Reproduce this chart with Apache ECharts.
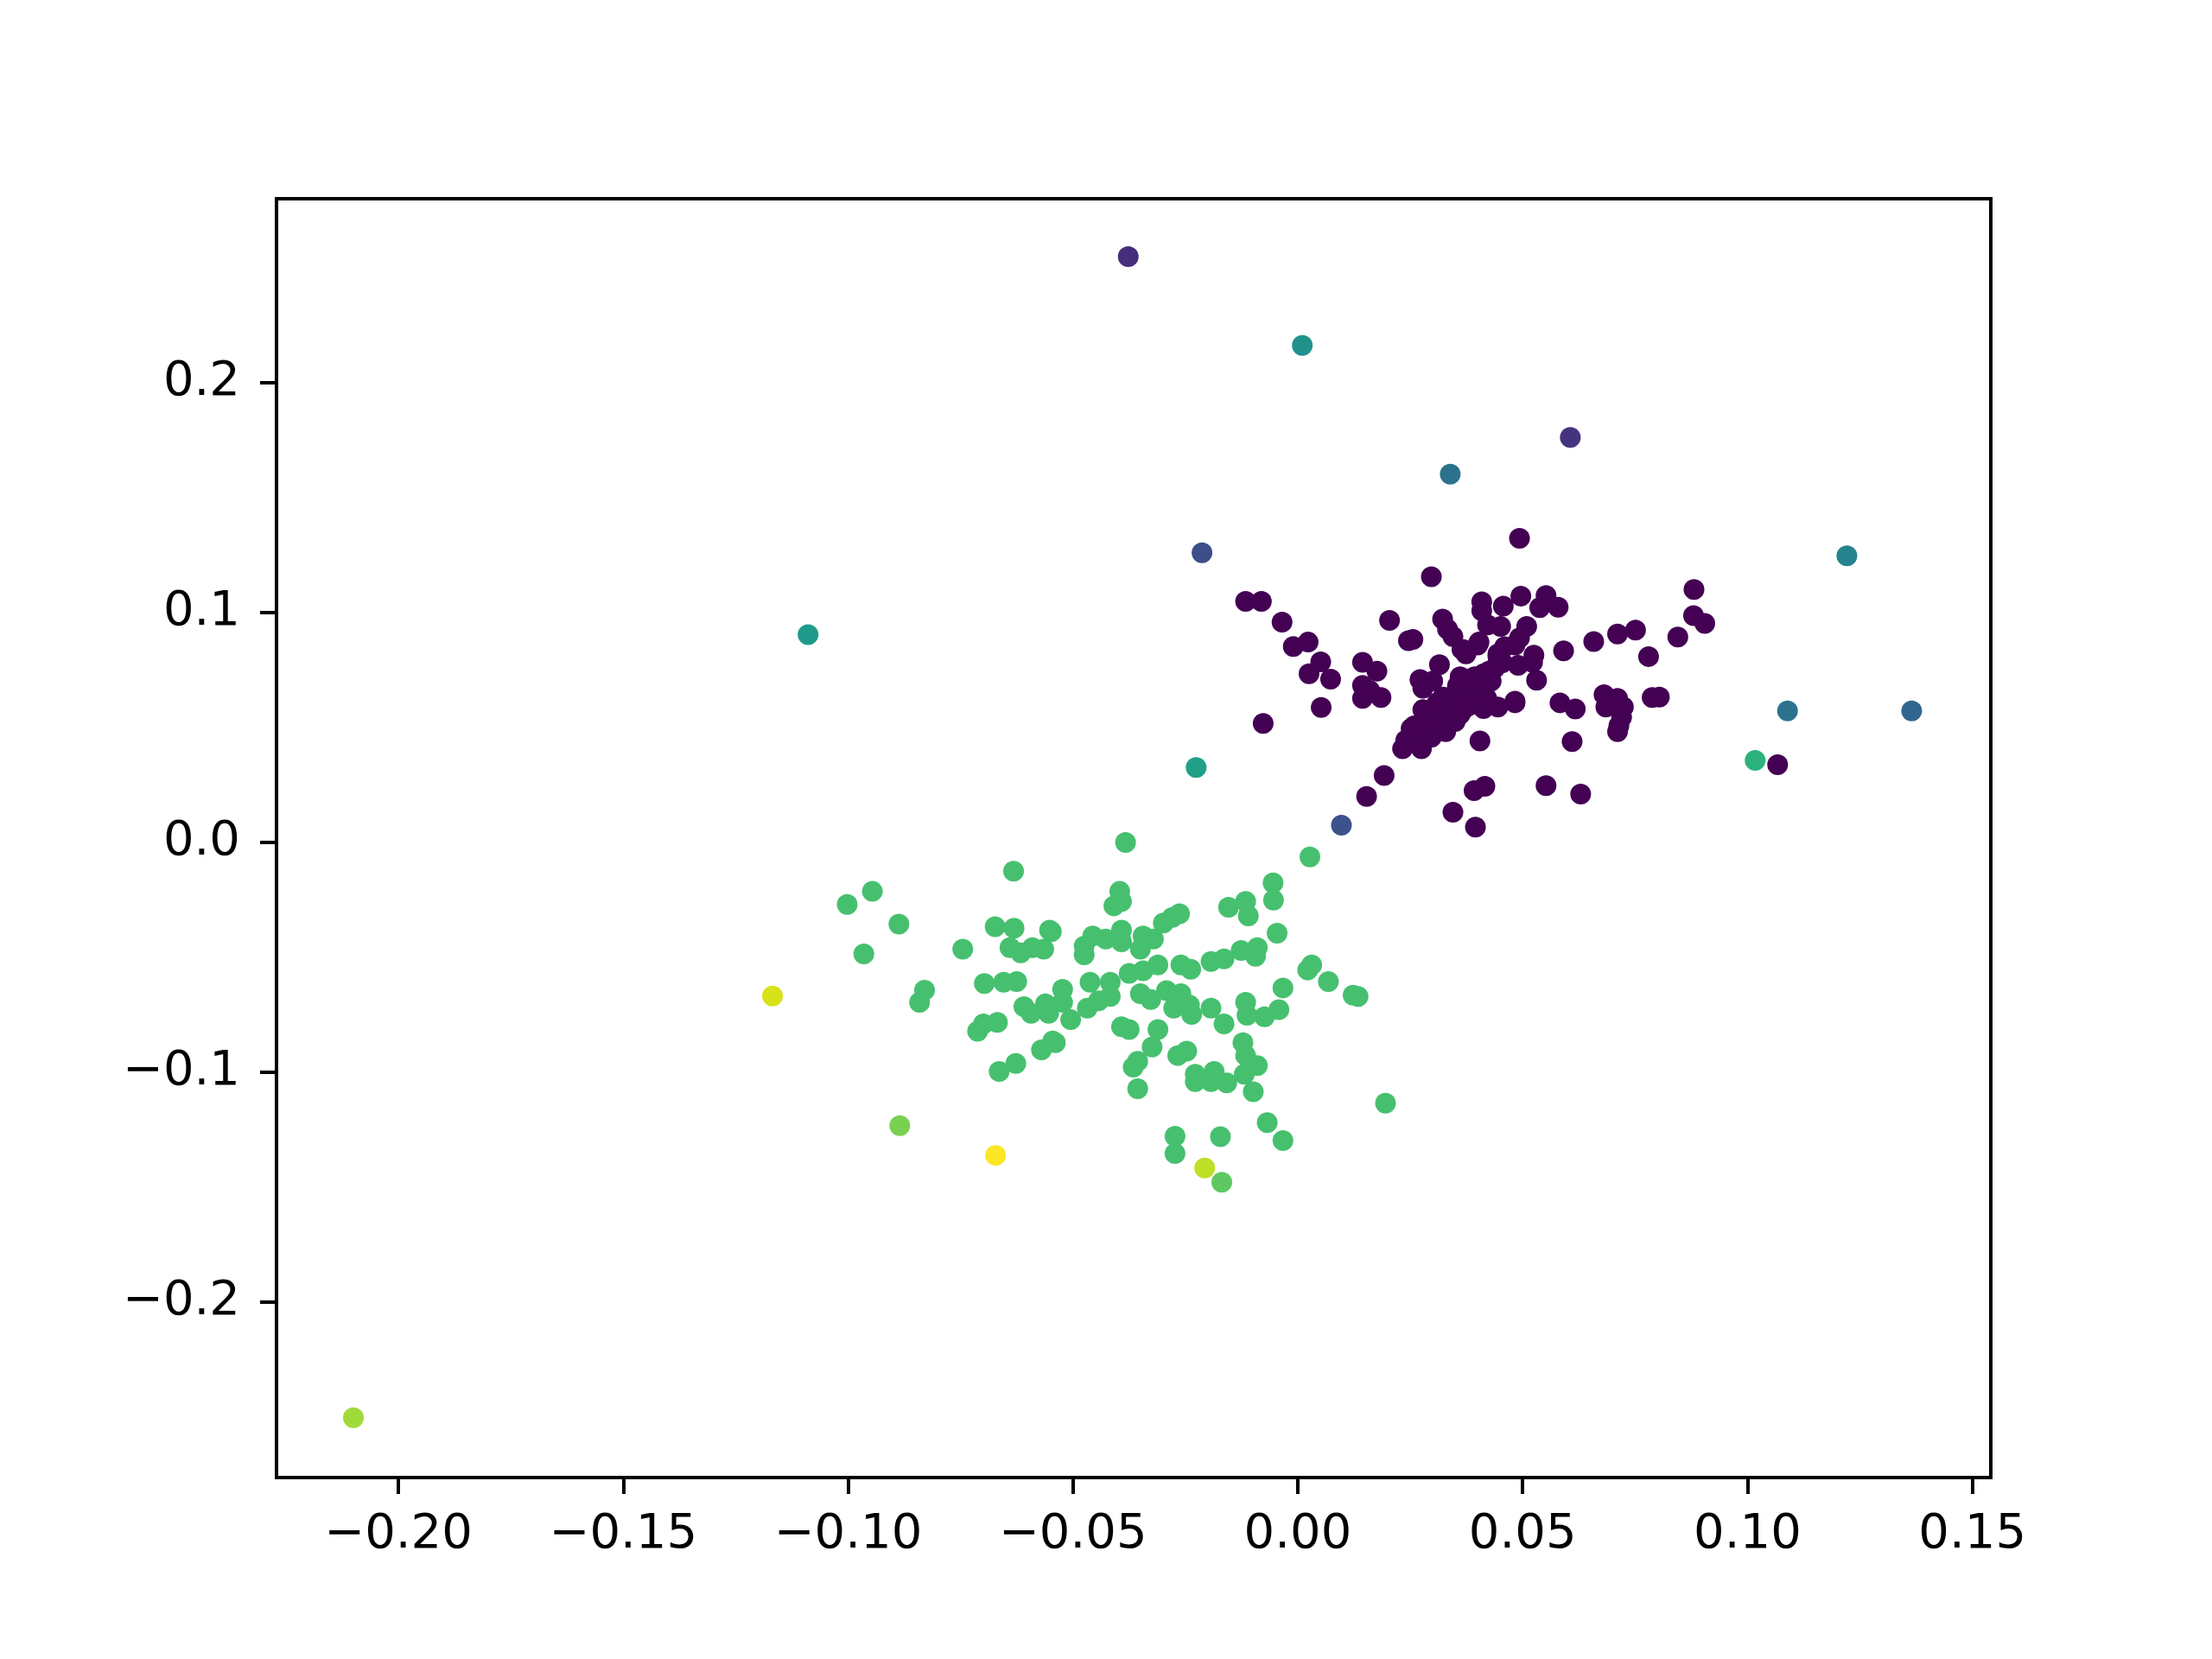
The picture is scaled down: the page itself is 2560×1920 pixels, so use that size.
<!DOCTYPE html>
<html>
<head>
<meta charset="utf-8">
<script src="https://cdn.jsdelivr.net/npm/echarts@6/dist/echarts.min.js"></script>
<style>
html,body{margin:0;padding:0;background:#fff;}
#chart{width:2560px;height:1920px;}
</style>
</head>
<body>
<div id="chart"></div>
<script>
// Tick values
const xTicks = [-0.20, -0.15, -0.10, -0.05, 0.00, 0.05, 0.10, 0.15];
const yTicks = [-0.2, -0.1, 0.0, 0.1, 0.2];

// Cluster 0 (dark purple)
const clusterPurple = [
 [0.0297,0.1154],[-0.0116,0.1047],[-0.0081,0.1047],[-0.0035,0.0957],[0.0204,0.0964],[-0.0010,0.0851],[0.0023,0.0870],
 [0.0051,0.0784],[0.0025,0.0732],[0.0073,0.0709],[0.0052,0.0586],[-0.0077,0.0516],[0.0144,0.0782],[0.0176,0.0744],
 [0.0144,0.0682],[0.0144,0.0625],[0.0185,0.0629],[0.0160,0.0659],[0.0246,0.0876],[0.0256,0.0882],[0.0322,0.0970],
 [0.0333,0.0926],[0.0345,0.0894],[0.0365,0.0838],[0.0315,0.0772],[0.0272,0.0706],[0.0281,0.0682],[0.0300,0.0700],
 [0.0361,0.0719],[0.0192,0.0290],[0.0153,0.0199],[0.0345,0.0130],
 [0.0493,0.1321],[0.0881,0.1099],[0.0880,0.0985],[0.0905,0.0951],[0.0845,0.0892],[0.0751,0.0922],[0.0711,0.0905],
 [0.0658,0.0872],[0.0591,0.0832],[0.0780,0.0807],[0.0804,0.0631],[0.0788,0.0629],[0.0681,0.0641],[0.0711,0.0625],
 [0.0724,0.0588],[0.0685,0.0588],[0.0720,0.0544],[0.0714,0.0506],[0.0711,0.0481],[0.0583,0.0606],[0.0617,0.0579],
 [0.0610,0.0437],[0.0405,0.0440],[0.0531,0.0704],[0.0552,0.0246],[0.0629,0.0209],[0.0392,0.0224],[0.0416,0.0243],
 [0.0395,0.0065],[0.0409,0.1045],[0.0409,0.1007],[0.0496,0.1070],[0.0457,0.1026],[0.0552,0.1072],[0.0538,0.1020],
 [0.0579,0.1022],[0.0422,0.0945],[0.0451,0.0938],[0.0509,0.0938],[0.0493,0.0888],[0.0403,0.0870],[0.0445,0.0819],
 [0.0525,0.0813],[0.0490,0.0769],[0.0374,0.0819],[0.0381,0.0706],[0.0413,0.0732],[0.0438,0.0757],[0.0483,0.0606],
 [0.0445,0.0588],[0.0413,0.0581],[0.0381,0.0594],[0.0361,0.0644],[0.0522,0.0782],[0.0361,0.0556],[0.0400,0.0657],
 [0.1067,0.0337],
 [0.0272,0.0707],[0.0278,0.0669],[0.0361,0.0713],[0.0368,0.0838],[0.0400,0.0857],[0.0445,0.0807],[0.0425,0.0744],
 [0.0393,0.0719],[0.0413,0.0682],[0.0483,0.0857],[0.0483,0.0613],[0.0349,0.0644],[0.0323,0.0631],[0.0310,0.0607],
 [0.0278,0.0576],[0.0259,0.0506],[0.0252,0.0494],[0.0297,0.0531],[0.0329,0.0481],[0.0240,0.0443],[0.0233,0.0406],
 [0.0275,0.0406],[0.0297,0.0456],[0.0329,0.0519],
 [0.0265,0.0470],[0.0285,0.0500],[0.0310,0.0540],[0.0335,0.0570],[0.0350,0.0600],[0.0375,0.0620],[0.0390,0.0640],
 [0.0300,0.0580],[0.0320,0.0505],[0.0350,0.0525],[0.0370,0.0580],[0.0395,0.0610],[0.0420,0.0625],[0.0390,0.0680],
 [0.0355,0.0680],[0.0430,0.0700],[0.0455,0.0780],[0.0460,0.0850]
];

// Cluster 1 (green)
const clusterGreen = [
 [-0.0632,-0.0126],[-0.0946,-0.0214],[-0.1002,-0.0271],[-0.0887,-0.0356],[-0.0965,-0.0486],[-0.0745,-0.0465],
 [-0.0673,-0.0368],[-0.0631,-0.0374],[-0.0552,-0.0383],[-0.0640,-0.0459],[-0.0616,-0.0481],[-0.0590,-0.0459],
 [-0.0565,-0.0465],[-0.0830,-0.0644],[-0.0841,-0.0696],[-0.0697,-0.0615],[-0.0654,-0.0609],[-0.0625,-0.0606],
 [-0.0609,-0.0715],[-0.0593,-0.0744],[-0.0561,-0.0703],[-0.0554,-0.0744],[-0.0668,-0.0784],[-0.0699,-0.0790],
 [-0.0712,-0.0822],[-0.0570,-0.0903],[-0.0545,-0.0865],[-0.0627,-0.0962],[-0.0664,-0.0997],
 [-0.0383,-0.0001],[-0.0055,-0.0177],[-0.0054,-0.0252],[-0.0046,-0.0396],[-0.0396,-0.0214],[-0.0392,-0.0258],
 [-0.0409,-0.0277],[-0.0154,-0.0283],[-0.0116,-0.0258],[-0.0110,-0.0321],[-0.0263,-0.0311],[-0.0279,-0.0327],
 [-0.0299,-0.0352],[-0.0548,-0.0389],[-0.0456,-0.0408],[-0.0475,-0.0452],[-0.0427,-0.0421],[-0.0392,-0.0383],
 [-0.0392,-0.0433],[-0.0475,-0.0490],[-0.0344,-0.0408],[-0.0350,-0.0465],[-0.0321,-0.0421],[-0.0311,-0.0534],
 [-0.0344,-0.0559],[-0.0375,-0.0571],[-0.0260,-0.0534],[-0.0238,-0.0553],[-0.0193,-0.0519],[-0.0164,-0.0508],
 [-0.0126,-0.0471],[-0.0090,-0.0459],[-0.0094,-0.0496],[-0.0462,-0.0609],[-0.0417,-0.0609],[-0.0417,-0.0671],
 [-0.0523,-0.0640],[-0.0523,-0.0696],[-0.0555,-0.0740],[-0.0505,-0.0772],[-0.0468,-0.0722],[-0.0443,-0.0690],
 [-0.0350,-0.0659],[-0.0327,-0.0684],[-0.0292,-0.0646],[-0.0276,-0.0722],[-0.0260,-0.0659],[-0.0241,-0.0709],
 [-0.0236,-0.0749],[-0.0193,-0.0722],[-0.0164,-0.0790],[-0.0116,-0.0696],[-0.0113,-0.0753],[-0.0074,-0.0759],
 [-0.0042,-0.0728],[-0.0033,-0.0634],[-0.0392,-0.0803],[-0.0375,-0.0815],[-0.0311,-0.0815],[-0.0324,-0.0891],
 [-0.0539,-0.0872],[-0.0356,-0.0953],[-0.0366,-0.0978],[-0.0356,-0.1072],[-0.0267,-0.0928],[-0.0247,-0.0909],
 [-0.0228,-0.1009],[-0.0228,-0.1041],[-0.0186,-0.0997],[-0.0193,-0.1041],[-0.0158,-0.1047],[-0.0122,-0.0872],
 [-0.0116,-0.0928],[-0.0090,-0.0972],[-0.0119,-0.1009],[-0.0099,-0.1085],[-0.0068,-0.1220],[-0.0033,-0.1298],
 [-0.0273,-0.1279],[-0.0273,-0.1354],[-0.0172,-0.1281],
 [0.0027,-0.0064],[0.0031,-0.0534],[0.0022,-0.0556],[0.0068,-0.0606],[0.0123,-0.0665],[0.0134,-0.0671],
 [0.0195,-0.1135]
];

// Outliers, with their own colours
const outlierPoints = [
 [-0.0377,0.2546],[0.0010,0.2160],[0.0606,0.1760],[0.0339,0.1600],[-0.0213,0.1258],[0.1221,0.1245],
 [-0.1089,0.0902],[-0.0226,0.0325],[0.1089,0.0571],[0.1365,0.0571],[0.1017,0.0356],[0.0097,0.0074],
 [-0.1168,-0.0669],[-0.0885,-0.1233],[-0.0672,-0.1362],[-0.0207,-0.1417],[-0.0169,-0.1479],[-0.2100,-0.2503]
];
const outlierColors = [
 '#472d7b','#21918c','#46337f','#2c728e','#3d4e8a','#25838e',
 '#1f9a8a','#1fa187','#2c728e','#31668e','#2db27d','#3b528b',
 '#d8e219','#7ad151','#fde725','#bddf26','#5ec962','#a0da39'
];

const fmtX = v => (v < 0 ? '\u2212' : '') + Math.abs(v).toFixed(2);
const fmtY = v => (v < 0 ? '\u2212' : '') + Math.abs(v).toFixed(1);

const chart = echarts.init(document.getElementById('chart'), null, {renderer: 'canvas'});
const labelFont = {fontFamily: 'DejaVu Sans', fontSize: 56, color: '#000'};

chart.setOption({
  backgroundColor: '#fff',
  animation: false,
  grid: {left: 320, right: 256, top: 230, bottom: 210, show: true, borderColor: '#000', borderWidth: 4, backgroundColor: 'transparent'},
  xAxis: {
    type: 'value', min: -0.2271, max: 0.1541,
    splitLine: {show: false},
    axisLine: {show: true, onZero: false, lineStyle: {color: '#000', width: 4}},
    axisTick: {show: true, customValues: xTicks, length: 19, lineStyle: {color: '#000', width: 4}},
    axisLabel: Object.assign({customValues: xTicks, margin: 38, formatter: fmtX}, labelFont)
  },
  yAxis: {
    type: 'value', min: -0.2763, max: 0.2798,
    splitLine: {show: false},
    axisLine: {show: true, onZero: false, lineStyle: {color: '#000', width: 4}},
    axisTick: {show: true, customValues: yTicks, length: 19, lineStyle: {color: '#000', width: 4}},
    axisLabel: Object.assign({customValues: yTicks, margin: 42, formatter: fmtY}, labelFont)
  },
  series: [
    {type: 'scatter', symbolSize: 24, data: clusterPurple, itemStyle: {color: '#440154', opacity: 1}},
    {type: 'scatter', symbolSize: 24, data: clusterGreen, itemStyle: {color: '#46c06f', opacity: 1}},
    {type: 'scatter', symbolSize: 24,
     data: outlierPoints.map((p, i) => ({value: p, itemStyle: {color: outlierColors[i], opacity: 1}}))}
  ]
});
</script>
</body>
</html>
